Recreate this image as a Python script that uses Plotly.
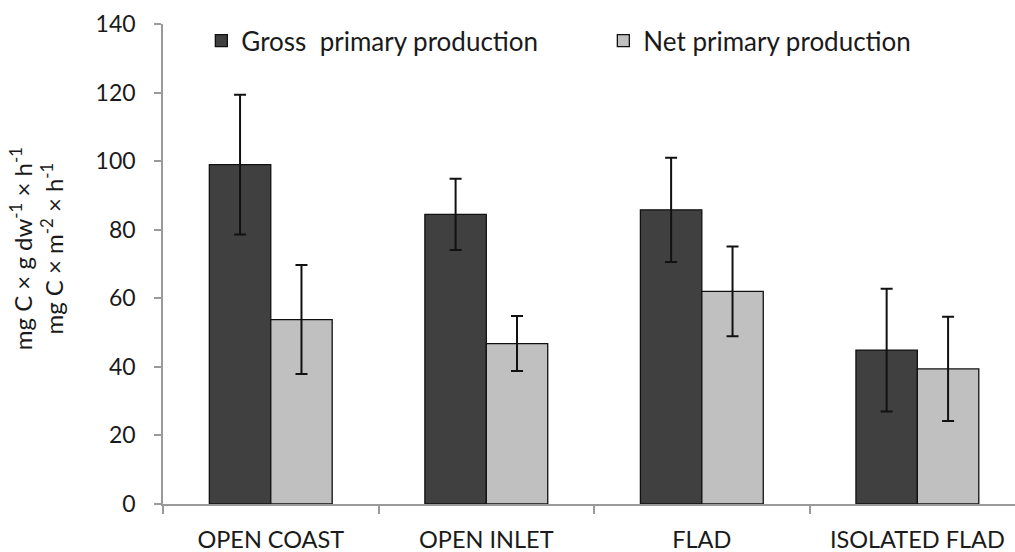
import plotly.graph_objects as go

# Site categories and production rates (means with standard deviations)
sites = ["OPEN COAST", "OPEN INLET", "FLAD", "ISOLATED FLAD"]
gross_mean = [99.0, 84.5, 85.8, 44.9]
gross_sd = [20.4, 10.4, 15.2, 17.9]
net_mean = [53.8, 46.8, 62.0, 39.4]
net_sd = [15.9, 8.0, 13.1, 15.2]
y_ticks = [0, 20, 40, 60, 80, 100, 120, 140]

FONT = "Lato, Carlito, Calibri, sans-serif"
AXIS_GREY = "#9a9a9a"
TEXT = "#1a1a1a"

fig = go.Figure()
fig.add_trace(go.Bar(
    name="Gross&nbsp;&nbsp;primary production",
    x=sites, y=gross_mean,
    marker=dict(color="#404040", line=dict(color="#111111", width=1.3)),
    error_y=dict(type="data", array=gross_sd, visible=True,
                 color="#111111", thickness=2, width=6),
))
fig.add_trace(go.Bar(
    name="Net primary production",
    x=sites, y=net_mean,
    marker=dict(color="#c0c0c0", line=dict(color="#111111", width=1.3)),
    error_y=dict(type="data", array=net_sd, visible=True,
                 color="#111111", thickness=2, width=6),
))

fig.update_layout(
    width=1015, height=552,
    margin=dict(l=163, r=0, t=24, b=48),
    plot_bgcolor="white", paper_bgcolor="white",
    barmode="group", bargap=0.43, bargroupgap=0,
    font=dict(family=FONT, color=TEXT),
    showlegend=True,
    legend=dict(
        orientation="h", x=0.045, y=0.965, xanchor="left", yanchor="middle",
        font=dict(family=FONT, size=26, color=TEXT),
        entrywidth=357, entrywidthmode="pixels", itemwidth=30,
        bgcolor="rgba(0,0,0,0)", traceorder="normal",
    ),
    xaxis=dict(
        range=[-0.5, 3.453], showgrid=False,
        showline=True, linecolor=AXIS_GREY, linewidth=1.5,
        ticks="outside", tickson="boundaries", ticklen=8,
        tickcolor=AXIS_GREY, tickwidth=1.5,
        tickfont=dict(family=FONT, size=23.5, color=TEXT),
        ticklabelstandoff=14,
    ),
    yaxis=dict(
        range=[0, 140], tickvals=y_ticks, showgrid=False, zeroline=False,
        showline=True, linecolor=AXIS_GREY, linewidth=1.5,
        ticks="outside", ticklen=7, tickcolor=AXIS_GREY, tickwidth=1.5,
        tickfont=dict(family=FONT, size=23, color=TEXT),
        ticklabelstandoff=14,
    ),
)

# Two-line unit label along the y axis
fig.add_annotation(
    text="mg C × g dw<sup>-1</sup> × h<sup>-1</sup><br>mg C × m<sup>-2</sup> × h<sup>-1</sup>",
    xref="paper", yref="paper", x=-0.149, y=0.531, xanchor="center", yanchor="middle",
    textangle=-90, showarrow=False,
    font=dict(family=FONT, size=24, color=TEXT),
)

fig.write_html("out.html")
